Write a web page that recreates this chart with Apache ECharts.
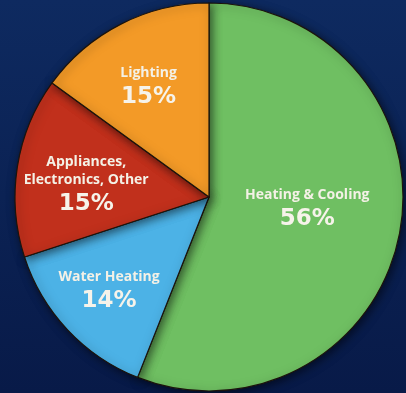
<!DOCTYPE html>
<html>
<head>
<meta charset="utf-8">
<script src="https://cdn.jsdelivr.net/npm/echarts@6/dist/echarts.min.js"></script>
<style>
html,body{margin:0;padding:0;background:#0b2154;}
#c{width:406px;height:393px;}
</style>
</head>
<body>
<div id="c"></div>
<script>
const categories = ['Heating & Cooling', 'Water Heating', 'Appliances,\nElectronics, Other', 'Lighting'];
const values = [56, 14, 15, 15];
const percentLabels = ['56%', '14%', '15%', '15%'];
const colors = ['#6fbf62', '#4cb2e6', '#c1301c', '#f39a27'];
const labelOffsets = [[0, -6], [-27, 27], [-24, 5], [-15, -20]];

const chart = echarts.init(document.getElementById('c'), null, {renderer: 'canvas'});
const data = categories.map((name, i) => ({
  name: name,
  value: values[i],
  itemStyle: {color: colors[i]},
  label: {offset: labelOffsets[i]}
}));
chart.setOption({
  backgroundColor: {
    type: 'linear', x: 0, y: 0, x2: 0, y2: 1,
    colorStops: [{offset: 0, color: '#0e2a60'}, {offset: 1, color: '#081a48'}]
  },
  animation: false,
  series: [{
    type: 'pie',
    center: [209, 197],
    radius: [0, 194],
    startAngle: 90,
    clockwise: true,
    silent: true,
    itemStyle: {
      borderColor: '#1c140c',
      borderWidth: 1.2,
      shadowBlur: 10,
      shadowColor: 'rgba(0,0,0,0.55)',
      shadowOffsetX: 2,
      shadowOffsetY: 2
    },
    label: {
      show: true,
      position: 'inside',
      formatter: function (p) {
        const lines = p.name.split('\n').map(s => '{n|' + s + '}').join('\n');
        return lines + '\n{p|' + percentLabels[p.dataIndex] + '}';
      },
      rich: {
        n: {fontFamily: 'Open Sans', fontWeight: 'bold', fontSize: 14, color: '#f4f1e6', lineHeight: 18, align: 'center'},
        p: {fontFamily: 'DejaVu Sans', fontWeight: 'bold', fontSize: 23, color: '#f6f3ea', lineHeight: 30, align: 'center'}
      }
    },
    labelLine: {show: false},
    data: data
  }]
});
</script>
</body>
</html>
